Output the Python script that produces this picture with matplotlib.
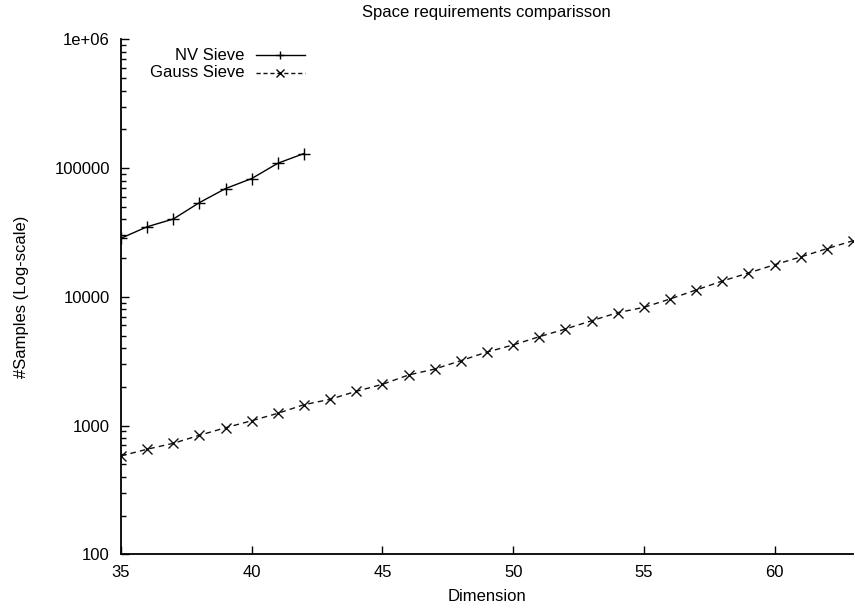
import matplotlib
matplotlib.use("Agg")
import matplotlib.pyplot as plt
from matplotlib.ticker import LogLocator, FixedLocator, NullFormatter

plt.rcParams['font.family'] = ['Liberation Sans', 'DejaVu Sans']
plt.rcParams['font.size'] = 12

# datos
dim_nv = [35, 36, 37, 38, 39, 40, 41, 42]
nv_sieve = [28500, 35000, 40200, 53900, 69300, 82900, 109000, 129700]

dim_gauss = list(range(35, 64))
gauss_sieve = [581, 655, 728, 840, 962, 1090, 1245, 1452, 1600, 1845, 2091,
               2470, 2748, 3190, 3725, 4225, 4900, 5620, 6520, 7530, 8280,
               9610, 11300, 13260, 15300, 17750, 20400, 23640, 27270]

xticks = [35, 40, 45, 50, 55, 60]
yticks = [100, 1000, 10000, 100000, 1000000]
ylabels = ['100', '1000', '10000', '100000', '1e+06']

fig = plt.figure(figsize=(8.55, 6.09), dpi=100)
ax = fig.add_axes([121/855, 1-554.3/609, 732/855, 515/609])

nv_style = dict(color='black', lw=1.0, marker='+', ms=8, mew=1.0)
ga_style = dict(color='#111111', lw=1.0, ls=(0, (4, 3)), marker='x', ms=7, mew=1.0)

ax.plot(dim_nv, nv_sieve, **nv_style)
ax.plot(dim_gauss, gauss_sieve, **ga_style)

ax.set_yscale('log')
ax.set_xlim(35, 63)
ax.set_ylim(100, 1e6)

ax.xaxis.set_major_locator(FixedLocator(xticks))
ax.set_yticks(yticks)
ax.set_yticklabels(ylabels)
ax.yaxis.set_minor_locator(LogLocator(base=10, subs=range(2, 10)))
ax.yaxis.set_minor_formatter(NullFormatter())

ax.spines['top'].set_visible(False)
ax.spines['right'].set_visible(False)
ax.spines['left'].set_linewidth(1.3)
ax.spines['bottom'].set_linewidth(1.3)
ax.tick_params(which='major', direction='in', length=5.5, width=1.0, pad=8)
ax.tick_params(which='minor', direction='in', length=3.5, width=1.0)
ax.tick_params(axis='y', which='both', right=False)
ax.tick_params(axis='x', which='both', top=False)

ax.set_xlabel('Dimension', labelpad=6)
ax.set_ylabel('#Samples (Log-scale)', labelpad=18)
fig.text(486/855, 1-13/609, 'Space requirements comparisson', ha='center', va='center')

# leyenda estilo gnuplot: texto a la derecha, muestra a la izquierda
legend_rows = [('NV Sieve', nv_style, 0.9695), ('Gauss Sieve', ga_style, 0.9355)]
for name, st, yy in legend_rows:
    ax.text(0.169, yy, name, transform=ax.transAxes, ha='right', va='center')
    line_st = dict(st)
    line_st.pop('marker')
    if 'ls' in line_st:
        line_st['ls'] = (0, (3, 2))
    ax.plot([0.184, 0.251], [yy, yy], transform=ax.transAxes, clip_on=False, **line_st)
    ax.plot([0.2175], [yy], transform=ax.transAxes, clip_on=False, ls='none',
            color='black', marker=st['marker'], ms=6, mew=1.0)

fig.savefig('out.png', dpi=100)
